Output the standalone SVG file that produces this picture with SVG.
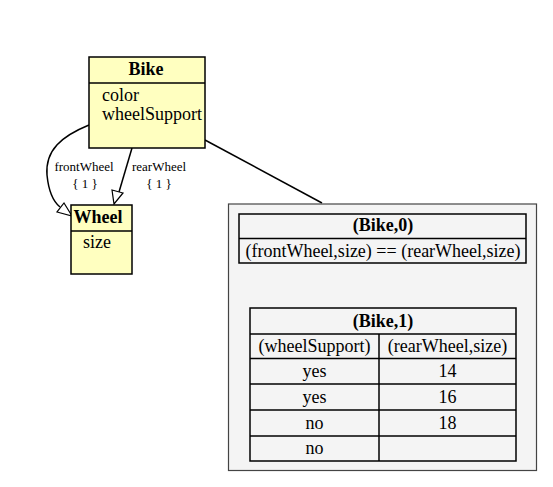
<svg xmlns="http://www.w3.org/2000/svg" width="553" height="487" viewBox="0 0 553 487">
<style>
.t{font-family:"Liberation Serif","Times New Roman","DejaVu Serif",serif;font-size:18px;fill:#000}
.b{font-weight:bold}
.s{font-family:"Liberation Serif","Times New Roman","DejaVu Serif",serif;font-size:13px;fill:#000}
.box{fill:#ffffc0;stroke:#000;stroke-width:1.5}
.ln{stroke:#000;stroke-width:1.5;fill:none}
.cell{fill:none;stroke:#000;stroke-width:1.5}
</style>
<rect width="553" height="487" fill="#fff"/>
<g id="connectors">
<path class="ln" d="M89,125 C62,136 45,150 47,175 C49,195 55,203 60,207"/>
<polygon points="57,212 72,216 64,203" fill="#fff" stroke="#000" stroke-width="1.2"/>
<path class="ln" d="M132,148 L119,192"/>
<polygon points="112,190 114,204 123,193" fill="#fff" stroke="#000" stroke-width="1.2"/>
<path class="ln" d="M205,140 L322,203"/>
<text class="s" x="84" y="171" text-anchor="middle">frontWheel</text>
<text class="s" x="85" y="188" text-anchor="middle">{ 1 }</text>
<text class="s" x="159" y="171" text-anchor="middle">rearWheel</text>
<text class="s" x="159" y="188" text-anchor="middle">{ 1 }</text>
</g>
<g id="Bike">
<rect class="box" x="89" y="57" width="116" height="91"/>
<line class="ln" x1="89" y1="83" x2="205" y2="83"/>
<text class="t b" x="146" y="75" text-anchor="middle">Bike</text>
<text class="t" x="102" y="101">color</text>
<text class="t" x="102" y="120">wheelSupport</text>
</g>
<g id="Wheel">
<rect class="box" x="71" y="205" width="61" height="69"/>
<line class="ln" x1="71" y1="231" x2="132" y2="231"/>
<text class="t b" x="98" y="223" text-anchor="middle">Wheel</text>
<text class="t" x="83" y="248">size</text>
</g>
<g id="cluster">
<rect x="228.5" y="204" width="308" height="266.5" fill="#f4f4f4" stroke="#444" stroke-width="1.2"/>
<g id="Bike0">
<rect class="cell" x="239" y="214" width="287" height="49"/>
<line class="cell" x1="239" y1="238.5" x2="526" y2="238.5"/>
<text class="t b" x="383" y="231" text-anchor="middle">(Bike,0)</text>
<text class="t" x="383" y="257" text-anchor="middle">(frontWheel,size) == (rearWheel,size)</text>
</g>
<g id="Bike1">
<rect class="cell" x="250" y="308" width="266" height="153"/>
<line class="cell" x1="250" y1="334" x2="516" y2="334"/>
<line class="cell" x1="250" y1="358.5" x2="516" y2="358.5"/>
<line class="cell" x1="250" y1="384" x2="516" y2="384"/>
<line class="cell" x1="250" y1="410" x2="516" y2="410"/>
<line class="cell" x1="250" y1="436" x2="516" y2="436"/>
<line class="cell" x1="379" y1="334" x2="379" y2="461"/>
<text class="t b" x="383" y="327" text-anchor="middle">(Bike,1)</text>
<text class="t" x="314.5" y="352" text-anchor="middle">(wheelSupport)</text>
<text class="t" x="447.5" y="352" text-anchor="middle">(rearWheel,size)</text>
<text class="t" x="314.5" y="377" text-anchor="middle">yes</text>
<text class="t" x="447.5" y="377" text-anchor="middle">14</text>
<text class="t" x="314.5" y="403" text-anchor="middle">yes</text>
<text class="t" x="447.5" y="403" text-anchor="middle">16</text>
<text class="t" x="314.5" y="429" text-anchor="middle">no</text>
<text class="t" x="447.5" y="429" text-anchor="middle">18</text>
<text class="t" x="314.5" y="454" text-anchor="middle">no</text>
</g>
</g>
</svg>
